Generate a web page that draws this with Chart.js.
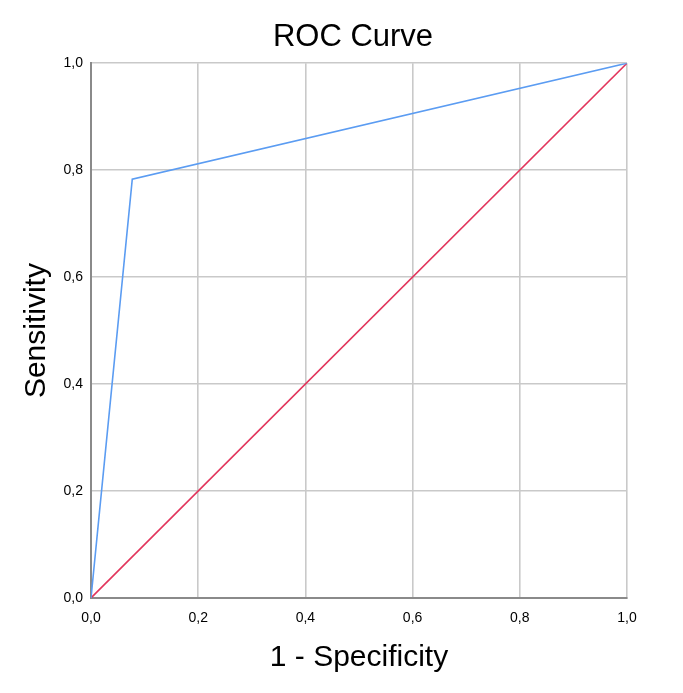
<!DOCTYPE html>
<html>
<head>
<meta charset="utf-8">
<script src="https://cdn.jsdelivr.net/npm/chart.js@4/dist/chart.umd.min.js"></script>
<style>
  html, body { margin: 0; padding: 0; background: #fff; }
  #wrap { width: 683px; height: 693px; }
</style>
</head>
<body>
<div id="wrap"><canvas id="roc" width="683" height="693"></canvas></div>
<script>
// ROC curve points (1 - specificity, sensitivity)
const rocX = [0, 0.077, 1];
const rocY = [0, 0.783, 1];
// reference diagonal
const refX = [0, 1];
const refY = [0, 1];
const tickLabels = ['0,0', '0,2', '0,4', '0,6', '0,8', '1,0'];

const FONT = "'Liberation Sans', Arial, sans-serif";

function pts(xs, ys) { return xs.map((x, i) => ({ x: x, y: ys[i] })); }
function tickText(v) {
  const i = Math.round(v / 0.2);
  return tickLabels[i] !== undefined ? tickLabels[i] : '';
}

// the title in the original sits a bit right of the canvas centre
const titleShift = {
  id: 'titleShift',
  afterLayout(chart) {
    const t = chart.titleBlock;
    if (t) { t.left = 23; t.right = 683; }
  }
};

const gridOpts = { color: '#c9c9c9', lineWidth: 1.6, drawTicks: false };
const borderOpts = { color: '#8a8a8a', width: 2 };

new Chart(document.getElementById('roc'), {
  type: 'scatter',
  data: {
    datasets: [{
      label: 'ROC',
      data: pts(rocX, rocY),
      showLine: true,
      borderColor: '#5b9cf2',
      borderWidth: 1.6,
      pointRadius: 0,
      tension: 0
    }, {
      label: 'Reference',
      data: pts(refX, refY),
      showLine: true,
      borderColor: '#e2355c',
      borderWidth: 1.6,
      pointRadius: 0,
      tension: 0
    }]
  },
  plugins: [titleShift],
  options: {
    responsive: false,
    animation: false,
    layout: { padding: { top: 0, right: 56, bottom: 0, left: 0 } },
    plugins: {
      legend: { display: false },
      tooltip: { enabled: false },
      title: {
        display: true,
        text: 'ROC Curve',
        color: '#000',
        font: { family: FONT, size: 31, weight: 'normal' },
        padding: { top: 19, bottom: 7 }
      }
    },
    scales: {
      x: {
        type: 'linear',
        min: 0, max: 1,
        afterFit: s => { s.height = 95; },
        grid: gridOpts,
        border: borderOpts,
        ticks: {
          stepSize: 0.2,
          padding: 12,
          color: '#000',
          font: { family: FONT, size: 14 },
          callback: v => tickText(v)
        },
        title: {
          display: true,
          text: '1 - Specificity',
          color: '#000',
          font: { family: FONT, size: 30 },
          padding: { top: 0, bottom: 17 }
        }
      },
      y: {
        type: 'linear',
        min: 0, max: 1,
        afterFit: s => { s.width = 91; },
        grid: gridOpts,
        border: borderOpts,
        ticks: {
          stepSize: 0.2,
          padding: 8,
          color: '#000',
          font: { family: FONT, size: 14 },
          callback: v => tickText(v)
        },
        title: {
          display: true,
          text: 'Sensitivity',
          color: '#000',
          font: { family: FONT, size: 30 },
          padding: { top: 19, bottom: 0 }
        }
      }
    }
  }
});
</script>
</body>
</html>
